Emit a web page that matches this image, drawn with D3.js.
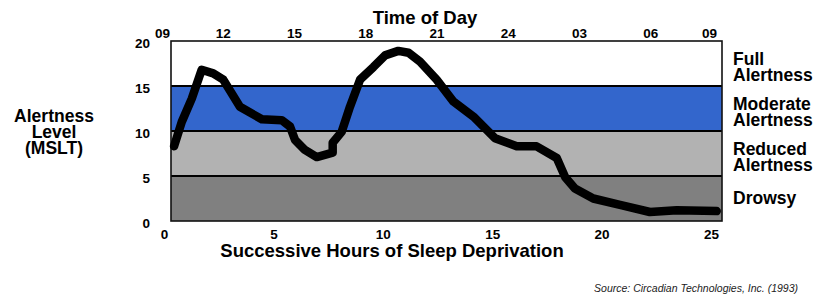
<!DOCTYPE html>
<html>
<head>
<meta charset="utf-8">
<script src="https://cdn.jsdelivr.net/npm/d3@7"></script>
<style>
  body { margin: 0; background: #fff; }
  svg text { font-family: "Liberation Sans", Arial, sans-serif; font-weight: bold; fill: #000; }
  .axis path, .axis line { display: none; }
  .source { font-weight: normal; font-style: italic; fill: #222; }
</style>
</head>
<body>
<div id="chart"></div>
<script>
// hours of sleep deprivation -> alertness level (MSLT)
const hours = [0.46, 0.81, 1.27, 1.72, 2.25, 2.71, 3.47, 4.47, 5.38, 5.76, 5.99, 6.44, 6.98, 7.71, 7.71,
  8.12, 8.50, 8.96, 9.57, 10.10, 10.71, 11.17, 11.70, 12.46, 13.22, 14.14, 15.13, 16.12, 17.03,
  17.95, 18.33, 18.78, 19.62, 20.84, 22.21, 23.43, 25.26];
const alertness = [8.3, 11.0, 13.6, 16.8, 16.4, 15.7, 12.7, 11.3, 11.2, 10.5, 9.0, 7.9, 7.1, 7.6, 8.7,
  9.9, 12.7, 15.7, 17.1, 18.4, 18.9, 18.7, 17.7, 15.7, 13.3, 11.6, 9.2, 8.3, 8.3,
  7.0, 4.9, 3.6, 2.5, 1.8, 1.0, 1.2, 1.1];

const bands = [
  { from: 15, to: 20, color: "#ffffff", label: ["Full", "Alertness"] },
  { from: 10, to: 15, color: "#3366cc", label: ["Moderate", "Alertness"] },
  { from: 5, to: 10, color: "#b2b2b2", label: ["Reduced", "Alertness"] },
  { from: 0, to: 5, color: "#808080", label: ["Drowsy"] }
];

const yTicks = [0, 5, 10, 15, 20];
const xTicks = [0, 5, 10, 15, 20, 25];
const timeOffsets = [0, 3, 6, 9, 12, 15, 18, 21, 24];
const timeLabels = ["09", "12", "15", "18", "21", "24", "03", "06", "09"];

const W = 820, H = 297;
const box = { left: 171, right: 722, top: 41, bottom: 221 };

const svg = d3.select("#chart").append("svg")
  .attr("width", W)
  .attr("height", H);

const y = d3.scaleLinear().domain([0, 20]).range([box.bottom, box.top]);
const x = d3.scaleLinear().domain([0, 25]).range([164, 711]);
const xTime = d3.scaleLinear().domain([0, 24]).range([151.5, 721.5]);

// bands
svg.append("g").selectAll("rect")
  .data(bands)
  .join("rect")
  .attr("x", box.left)
  .attr("width", box.right - box.left)
  .attr("y", d => y(d.to))
  .attr("height", d => y(d.from) - y(d.to))
  .attr("fill", d => d.color);

svg.append("g").selectAll("line")
  .data([5, 10, 15])
  .join("line")
  .attr("x1", box.left)
  .attr("x2", box.right)
  .attr("y1", d => y(d))
  .attr("y2", d => y(d))
  .attr("stroke", "#000")
  .attr("stroke-width", 2);

svg.append("rect")
  .attr("x", box.left)
  .attr("y", box.top)
  .attr("width", box.right - box.left)
  .attr("height", box.bottom - box.top)
  .attr("fill", "none")
  .attr("stroke", "#111")
  .attr("stroke-width", 1.6);

// alertness curve
const line = d3.line()
  .x(d => x(d[0]))
  .y(d => y(d[1]));

svg.append("path")
  .datum(d3.zip(hours, alertness))
  .attr("d", line)
  .attr("fill", "none")
  .attr("stroke", "#000")
  .attr("stroke-width", 8.5)
  .attr("stroke-linejoin", "round")
  .attr("stroke-linecap", "round");

// axes
svg.append("g")
  .attr("class", "axis")
  .attr("transform", "translate(150,2)")
  .call(d3.axisLeft(y).tickValues(yTicks).tickSize(0).tickPadding(0))
  .selectAll("text")
  .style("font-size", "13.5px");

svg.append("g")
  .attr("class", "axis")
  .attr("transform", "translate(0,229)")
  .call(d3.axisBottom(x).tickValues(xTicks).tickSize(0).tickPadding(0))
  .selectAll("text")
  .style("font-size", "13.5px");

const timeAxis = svg.append("g")
  .attr("class", "axis")
  .attr("transform", "translate(0,38)")
  .call(d3.axisTop(xTime).tickValues(timeOffsets).tickSize(0).tickPadding(0)
    .tickFormat((d, i) => timeLabels[i]));
timeAxis.selectAll("text")
  .style("font-size", "13.5px")
  .attr("text-anchor", (d, i) => i === 0 ? "start" : i === timeOffsets.length - 1 ? "end" : "middle")
  .attr("dx", (d, i) => i === 0 ? 3 : i === timeOffsets.length - 1 ? -5 : 0);

// titles
svg.append("text")
  .attr("x", 425).attr("y", 24)
  .attr("text-anchor", "middle")
  .style("font-size", "18.5px")
  .text("Time of Day");

svg.append("text")
  .attr("x", 392).attr("y", 257)
  .attr("text-anchor", "middle")
  .style("font-size", "18.5px")
  .text("Successive Hours of Sleep Deprivation");

svg.append("text")
  .attr("text-anchor", "middle")
  .style("font-size", "17.5px")
  .selectAll("tspan")
  .data(["Alertness", "Level", "(MSLT)"])
  .join("tspan")
  .attr("x", 54)
  .attr("y", (d, i) => 122 + i * 16.2)
  .text(d => d);

// band labels
svg.append("g").selectAll("text")
  .data(bands)
  .join("text")
  .attr("x", 733)
  .style("font-size", "17.5px")
  .each(function (d) {
    const mid = (y(d.from) + y(d.to)) / 2;
    const first = d.label.length > 1 ? mid + 1 : mid + 5.5;
    d3.select(this).selectAll("tspan")
      .data(d.label)
      .join("tspan")
      .attr("x", 733)
      .attr("y", (t, i) => first + i * 16.5)
      .text(t => t);
  });

svg.append("text")
  .attr("class", "source")
  .attr("x", 798).attr("y", 292)
  .attr("text-anchor", "end")
  .style("font-size", "10.5px")
  .text("Source: Circadian Technologies, Inc. (1993)");
</script>
</body>
</html>
